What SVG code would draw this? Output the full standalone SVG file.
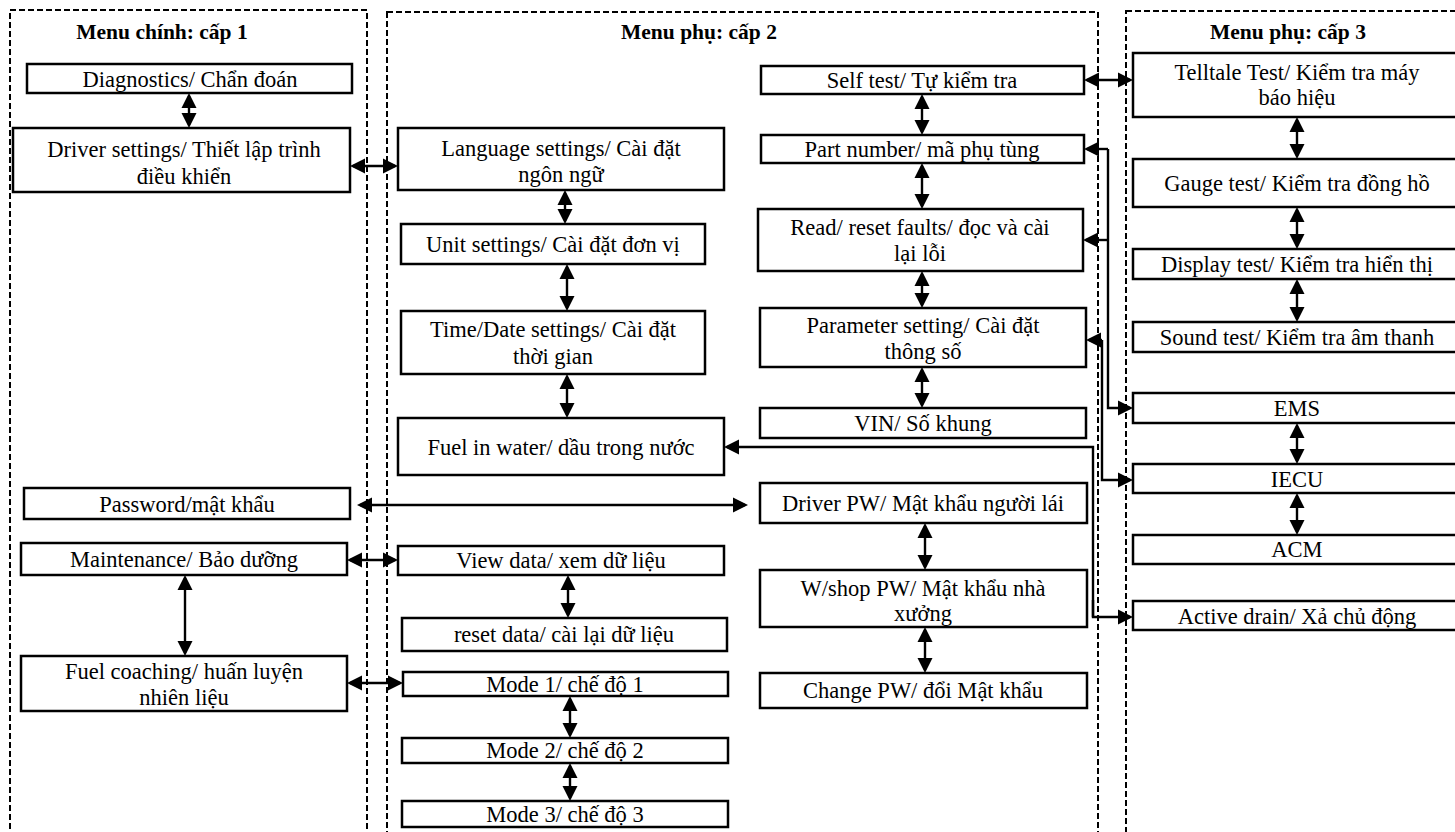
<svg xmlns="http://www.w3.org/2000/svg" width="1455" height="832" viewBox="0 0 1455 832">
<style>
.bg{fill:#fff}
.cont{fill:none;stroke:#000;stroke-width:2;stroke-dasharray:6 3}
.box{fill:#fff;stroke:#000;stroke-width:2.5}
.t{font-family:"Liberation Serif","DejaVu Serif",serif;font-size:22.5px;fill:#000;text-anchor:middle}
.h{font-family:"Liberation Serif","DejaVu Serif",serif;font-size:21.5px;font-weight:bold;fill:#000;text-anchor:middle}
.c{fill:none;stroke:#000;stroke-width:2.4}
.a2{marker-start:url(#ah);marker-end:url(#ah)}
.a1{marker-end:url(#ah)}
</style>
<defs>
<marker id="ah" markerUnits="userSpaceOnUse" markerWidth="16" markerHeight="16" refX="12" refY="8" orient="auto-start-reverse" viewBox="0 0 16 16">
<path d="M0,0.5 L15,8 L0,15.5 z" fill="#000"/>
</marker>
</defs>
<rect class="bg" x="0" y="0" width="1455" height="832"/>

<g id="containers">
<rect class="cont" x="10" y="10" width="357" height="840"/>
<rect class="cont" x="387" y="12" width="711" height="840"/>
<rect class="cont" x="1126" y="11" width="345" height="840"/>
<text class="h" x="162" y="39">Menu chính: cấp 1</text>
<text class="h" x="699" y="39">Menu phụ: cấp 2</text>
<text class="h" x="1288" y="39">Menu phụ: cấp 3</text>
</g>

<g id="connectors">
<line class="c a2" x1="189" y1="96" x2="189" y2="125"/>
<line class="c a2" x1="185" y1="578" x2="185" y2="653"/>
<line class="c a2" x1="353" y1="166" x2="395" y2="166"/>
<line class="c a2" x1="360" y1="505" x2="745" y2="505"/>
<line class="c a2" x1="350" y1="560" x2="395" y2="560"/>
<line class="c a2" x1="350" y1="683" x2="400" y2="683"/>
<line class="c a2" x1="565" y1="193" x2="565" y2="221"/>
<line class="c a2" x1="567" y1="267" x2="567" y2="308"/>
<line class="c a2" x1="567" y1="377" x2="567" y2="415"/>
<line class="c a2" x1="568" y1="578" x2="568" y2="615"/>
<line class="c a2" x1="570" y1="699" x2="570" y2="735"/>
<line class="c a2" x1="570" y1="766" x2="570" y2="798"/>
<line class="c a2" x1="922" y1="97" x2="922" y2="132"/>
<line class="c a2" x1="922" y1="166" x2="922" y2="206"/>
<line class="c a2" x1="922" y1="274" x2="922" y2="305"/>
<line class="c a2" x1="922" y1="370" x2="922" y2="405"/>
<line class="c a2" x1="925" y1="526" x2="925" y2="567"/>
<line class="c a2" x1="925" y1="630" x2="925" y2="670"/>
<line class="c a2" x1="1297" y1="120" x2="1297" y2="156"/>
<line class="c a2" x1="1297" y1="210" x2="1297" y2="246"/>
<line class="c a2" x1="1297" y1="282" x2="1297" y2="319"/>
<line class="c a2" x1="1297" y1="426" x2="1297" y2="461"/>
<line class="c a2" x1="1297" y1="496" x2="1297" y2="532"/>
<line class="c a2" x1="1087" y1="80" x2="1130" y2="80"/>
<path class="c a1" d="M1108,149 V408 H1130"/>
<path class="c a1" d="M1108,149 H1087"/>
<path class="c a1" d="M1108,240 H1086"/>
<path class="c a1" d="M1102,340 V480 H1130"/>
<path class="c a1" d="M1102,340 H1089"/>
<path class="c a1" d="M1093,617 V447 H727"/>
<path class="c a1" d="M1093,600 V617 H1130"/>
</g>

<g id="n-diag"><rect class="box" x="27" y="64" width="325" height="29"/><text class="t" x="190" y="87">Diagnostics/ Chẩn đoán</text></g>
<g id="n-driver"><rect class="box" x="13" y="128" width="337" height="64"/><text class="t" x="184" y="157">Driver settings/ Thiết lập trình</text><text class="t" x="184" y="184">điều khiển</text></g>
<g id="n-password"><rect class="box" x="24" y="488" width="326" height="31"/><text class="t" x="187" y="512">Password/mật khẩu</text></g>
<g id="n-maint"><rect class="box" x="21" y="543" width="326" height="32"/><text class="t" x="184" y="567">Maintenance/ Bảo dưỡng</text></g>
<g id="n-fuelcoach"><rect class="box" x="21" y="656" width="326" height="55"/><text class="t" x="184" y="679">Fuel coaching/ huấn luyện</text><text class="t" x="184" y="705">nhiên liệu</text></g>

<g id="n-lang"><rect class="box" x="398" y="128" width="326" height="62"/><text class="t" x="561" y="156">Language settings/ Cài đặt</text><text class="t" x="561" y="182">ngôn ngữ</text></g>
<g id="n-unit"><rect class="box" x="401" y="224" width="304" height="40"/><text class="t" x="553" y="252">Unit settings/ Cài đặt đơn vị</text></g>
<g id="n-time"><rect class="box" x="401" y="311" width="304" height="63"/><text class="t" x="553" y="337">Time/Date settings/ Cài đặt</text><text class="t" x="553" y="364">thời gian</text></g>
<g id="n-fiw"><rect class="box" x="398" y="418" width="326" height="57"/><text class="t" x="561" y="455">Fuel in water/ dầu trong nước</text></g>
<g id="n-view"><rect class="box" x="398" y="546" width="326" height="29"/><text class="t" x="561" y="568">View data/ xem dữ liệu</text></g>
<g id="n-reset"><rect class="box" x="402" y="618" width="325" height="33"/><text class="t" x="564" y="642">reset data/ cài lại dữ liệu</text></g>
<g id="n-mode1"><rect class="box" x="403" y="672" width="325" height="24"/><text class="t" x="565" y="692">Mode 1/ chế độ 1</text></g>
<g id="n-mode2"><rect class="box" x="402" y="738" width="326" height="25"/><text class="t" x="565" y="758">Mode 2/ chế độ 2</text></g>
<g id="n-mode3"><rect class="box" x="402" y="801" width="326" height="26"/><text class="t" x="565" y="822">Mode 3/ chế độ 3</text></g>

<g id="n-self"><rect class="box" x="761" y="66" width="323" height="28"/><text class="t" x="922" y="88">Self test/ Tự kiểm tra</text></g>
<g id="n-part"><rect class="box" x="761" y="135" width="323" height="28"/><text class="t" x="922" y="157">Part number/ mã phụ tùng</text></g>
<g id="n-read"><rect class="box" x="758" y="209" width="325" height="62"/><text class="t" x="920" y="235">Read/ reset faults/ đọc và cài</text><text class="t" x="920" y="261">lại lỗi</text></g>
<g id="n-param"><rect class="box" x="760" y="308" width="326" height="59"/><text class="t" x="923" y="333">Parameter setting/ Cài đặt</text><text class="t" x="923" y="359">thông số</text></g>
<g id="n-vin"><rect class="box" x="760" y="408" width="326" height="30"/><text class="t" x="923" y="431">VIN/ Số khung</text></g>
<g id="n-dpw"><rect class="box" x="760" y="483" width="327" height="40"/><text class="t" x="923" y="511">Driver PW/ Mật khẩu người lái</text></g>
<g id="n-wpw"><rect class="box" x="760" y="570" width="327" height="57"/><text class="t" x="923" y="596">W/shop PW/ Mật khẩu nhà</text><text class="t" x="923" y="621">xưởng</text></g>
<g id="n-cpw"><rect class="box" x="760" y="673" width="327" height="35"/><text class="t" x="923" y="698">Change PW/ đổi Mật khẩu</text></g>

<g id="n-telltale"><rect class="box" x="1133" y="53" width="340" height="64"/><text class="t" x="1297" y="80">Telltale Test/ Kiểm tra máy</text><text class="t" x="1297" y="105">báo hiệu</text></g>
<g id="n-gauge"><rect class="box" x="1133" y="159" width="340" height="48"/><text class="t" x="1297" y="191">Gauge test/ Kiểm tra đồng hồ</text></g>
<g id="n-display"><rect class="box" x="1133" y="249" width="340" height="30"/><text class="t" x="1297" y="272">Display test/ Kiểm tra hiển thị</text></g>
<g id="n-sound"><rect class="box" x="1133" y="322" width="340" height="30"/><text class="t" x="1297" y="345">Sound test/ Kiểm tra âm thanh</text></g>
<g id="n-ems"><rect class="box" x="1133" y="393" width="340" height="30"/><text class="t" x="1297" y="416">EMS</text></g>
<g id="n-iecu"><rect class="box" x="1133" y="464" width="340" height="29"/><text class="t" x="1297" y="487">IECU</text></g>
<g id="n-acm"><rect class="box" x="1133" y="535" width="340" height="29"/><text class="t" x="1297" y="557">ACM</text></g>
<g id="n-drain"><rect class="box" x="1133" y="601" width="340" height="29"/><text class="t" x="1297" y="624">Active drain/ Xả chủ động</text></g>
</svg>
